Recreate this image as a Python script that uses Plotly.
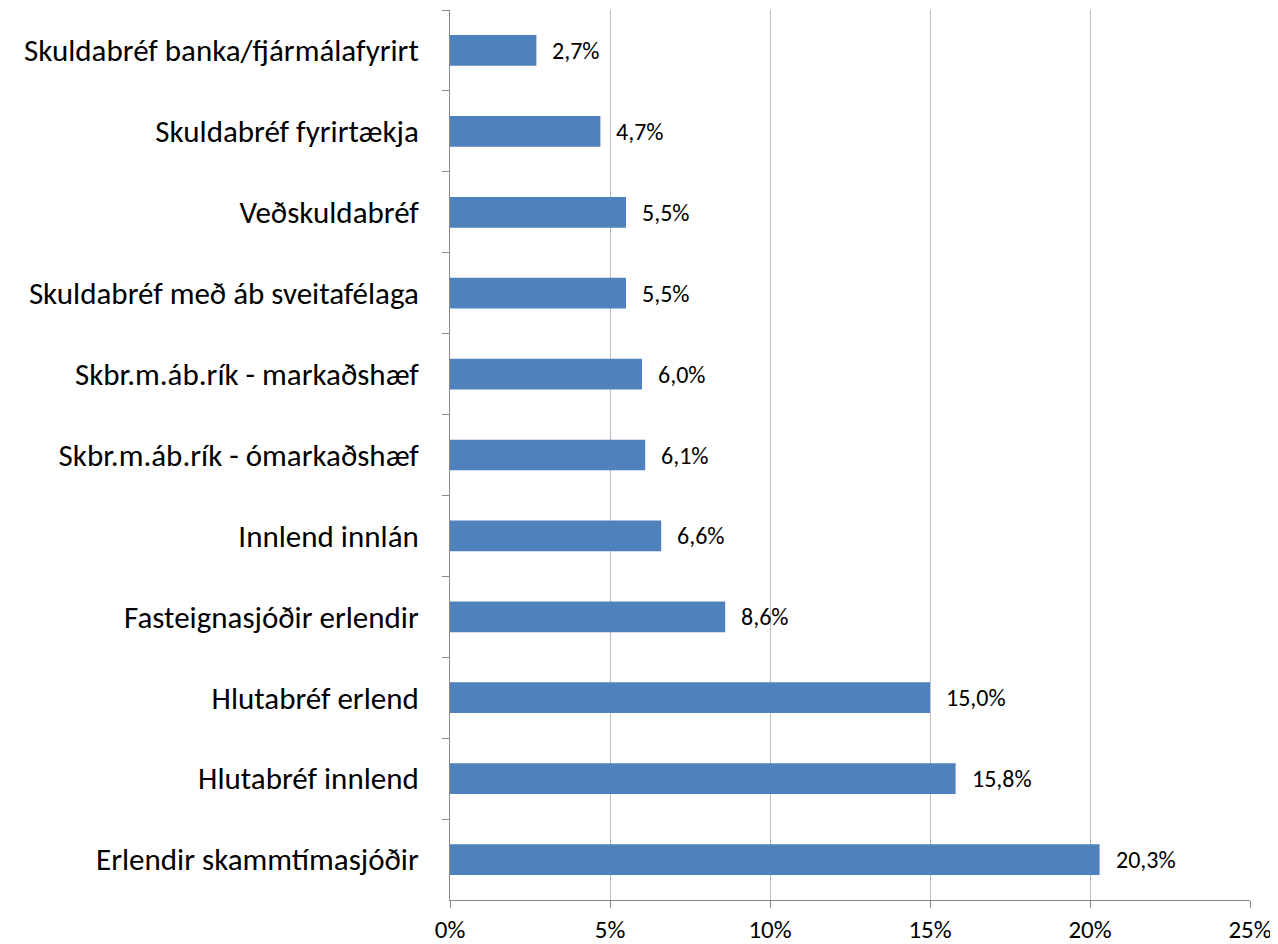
import plotly.graph_objects as go

categories = [
    "Skuldabréf banka/fjármálafyrirt",
    "Skuldabréf fyrirtækja",
    "Veðskuldabréf",
    "Skuldabréf með áb sveitafélaga",
    "Skbr.m.áb.rík - markaðshæf",
    "Skbr.m.áb.rík - ómarkaðshæf",
    "Innlend innlán",
    "Fasteignasjóðir erlendir",
    "Hlutabréf erlend",
    "Hlutabréf innlend",
    "Erlendir skammtímasjóðir",
]
values = [2.7, 4.7, 5.5, 5.5, 6.0, 6.1, 6.6, 8.6, 15.0, 15.8, 20.3]
x_ticks = [0, 5, 10, 15, 20, 25]
x_tick_labels = ["0%", "5%", "10%", "15%", "20%", "25%"]

labels = [f"{v:.1f}".replace(".", ",") + "%" for v in values]

FONT = "Carlito, Lato, Open Sans, sans-serif"

fig = go.Figure(
    go.Bar(
        x=values,
        y=categories,
        orientation="h",
        marker=dict(color="#4F81BD", line=dict(width=0)),
        width=0.38,
        hoverinfo="skip",
    )
)

for c, v, t in zip(categories, values, labels):
    fig.add_annotation(
        x=v, y=c, text=t, showarrow=False, xanchor="left", xshift=14,
        font=dict(family=FONT, size=24, color="#000000"),
    )

fig.update_layout(
    width=1270,
    height=936,
    margin=dict(l=442, r=28, t=2, b=44),
    paper_bgcolor="white",
    plot_bgcolor="white",
    showlegend=False,
    font=dict(family=FONT, color="#000000"),
)
fig.update_xaxes(
    range=[0, 25],
    tickvals=x_ticks,
    ticktext=x_tick_labels,
    showgrid=True,
    gridcolor="#BEBEBE",
    gridwidth=1,
    showline=True,
    linecolor="#898989",
    linewidth=1,
    ticks="outside",
    ticklen=7,
    tickcolor="#898989",
    tickfont=dict(family=FONT, size=25, color="#000000"),
    zeroline=False,
    automargin=False,
    fixedrange=True,
)
fig.update_yaxes(
    autorange="reversed",
    showline=True,
    linecolor="#898989",
    linewidth=1,
    ticks="outside",
    tickson="boundaries",
    ticklen=7,
    tickcolor="#898989",
    ticklabelstandoff=24,
    tickfont=dict(family=FONT, size=31, color="#000000"),
    showgrid=False,
    automargin=False,
    fixedrange=True,
)

fig.write_html("out.html")
